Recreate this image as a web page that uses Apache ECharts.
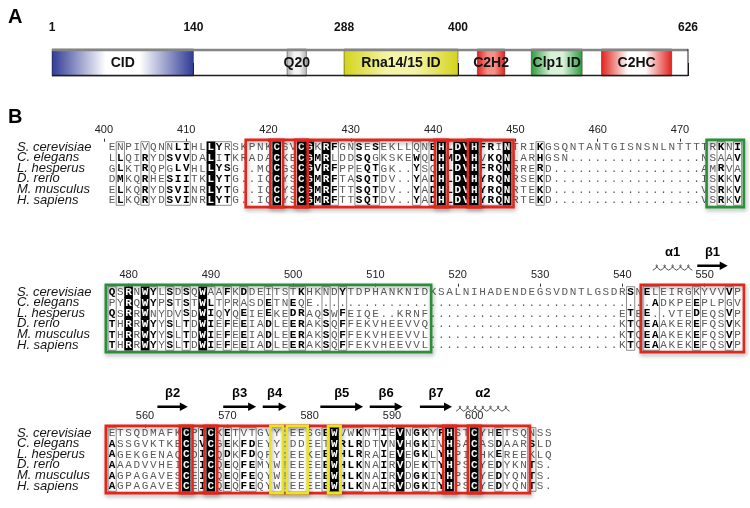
<!DOCTYPE html>
<html>
<head>
<meta charset="utf-8">
<script src="https://cdn.jsdelivr.net/npm/echarts@6.0.0/dist/echarts.min.js"></script>
<style>
html,body{margin:0;padding:0;background:#ffffff;}
#chart{width:750px;height:508px;}
</style>
</head>
<body>
<div id="chart"></div>
<script>
// ===== Panel A: domain architecture =====
const proteinLength = 626;
const markerResidues = [1, 140, 288, 400, 626];
const domainNames = ['CID', 'Q20', 'Rna14/15 ID', 'C2H2', 'Clp1 ID', 'C2HC'];
const domainStart = [1, 232, 288, 419, 472, 541];
const domainEnd   = [140, 251, 400, 446, 522, 610];

// ===== Panel B: sequence alignment =====
const species = ['S. cerevisiae', 'C. elegans', 'L. hesperus', 'D. rerio', 'M. musculus', 'H. sapiens'];

const block1Seqs = [
  'ENPIVQNNLIHLLYRSKPNKCSVCGKRFGNSESEKLLQNEHLDVHFRINTRIKGSQNTANTGISNSNLNTTTTRKNI',
  'LLQIRYDSVVDALITKRADACKECGMRLDDSQGKSKEWQDHMDVHVKQNLARHGSN' + '.'.repeat(16) + 'NSAAV',
  'GLKTRQPGLVHLLYSG..MQCGSCGVRFPPEQTGK..YSQHLDVHFRQNRRERD' + '.'.repeat(18) + 'AMRVA',
  'DMKQRHESIITKLYTG..IQCYSCGMRFTASQTDV..YADHLDVHYRQNRSEKD' + '.'.repeat(18) + 'ISKKV',
  'ELKQRYDSVINRLYTG..IQCYSCGMRFTTSQTDV..YADHLDVHYRQNRTEKD' + '.'.repeat(18) + 'VSRKV',
  'ELKQRYDSVINRLYTG..IQCYSCGMRFTTSQTDV..YADHLDVHYRQNRTEKD' + '.'.repeat(18) + 'VSRKV'
];
const block1Conserved = [12, 20, 23, 24, 26, 40, 42, 43, 44, 48];
const block1Frames = [[1,1],[4,4],[7,9],[13,14],[25,25],[27,27],[30,32],[37,37],[39,39],[41,41],[45,47],[52,52],[74,74],[76,76]];
const block1TickCols = [-1, 9, 19, 29, 39, 49, 59, 69];
const block1TickLabels = [400, 410, 420, 430, 440, 450, 460, 470];
const block1RedBoxes = [[17,48],[20,20],[23,23],[40,40],[44,44]];
const block1GreenBoxes = [[73,76]];
const block1YellowBoxes = [];

const block2Seqs = [
  'QSRNWYLSDSQWAAFKDDEITSTKHKNDYTDPHANKNIDKSALNIHADENDEGSVDNTLGSDRSNELEIRGKYVVVP',
  'PYRQWYPSTSTWLTPRASDETNEQE' + '.'.repeat(41) + 'ADKPEEPLPGV',
  'QSRRWNYDVSDWIQYQEIEEKEDRAQSWFEIQE..KRNF' + '.'.repeat(23) + 'ETEE..VTEDEQSVP',
  'THRRWYYSLTDWIEFEEIADLEERAKSQFFEKVHEEVVQ' + '.'.repeat(23) + 'KTQEAAKEREFQSVK',
  'THRRWYYSLTDWIEFEEIADLEERAKSQFFEKVHEEVVL' + '.'.repeat(23) + 'KTQEAAKEKEFQSVP',
  'THRRWYYSLTDWIEFEEIADLEERAKSQFFEKVHEEVVL' + '.'.repeat(23) + 'KTQEAAKEKEFQSVP'
];
const block2Conserved = [2, 4, 11];
const block2Frames = [[0,0],[5,5],[7,7],[9,9],[12,12],[14,14],[16,16],[19,19],[22,23],[26,26],[28,28],[63,63],[65,66],[71,71],[75,75]];
const block2TickCols = [2, 12, 22, 32, 42, 52, 62, 72];
const block2TickLabels = [480, 490, 500, 510, 520, 530, 540, 550];
const block2RedBoxes = [[65,76]];
const block2GreenBoxes = [[0,38]];
const block2YellowBoxes = [];
const block2SSType = ['alpha', 'beta'];
const block2SSLabel = ['α1', 'β1'];
const block2SSFrom = [66.2, 71.6];
const block2SSTo = [71.0, 75.3];

const block3Seqs = [
  'ETSQDMAFKCPICKETVTGVY:EESGEWVWKNTIEVNGKYFHSTCYHETSQNSS',
  'ASSGVKTKECSVCGEKFDEYY:DDEETWRLRDTVNVHGKIVHSACASDAARSLD',
  'AGEKGENAQCDICQDKFDQFY:EEKEEWHLRRAIEVEGKLYHPICHKEREEKLQ',
  'AAADVVHEICEICQEQFEMYW!EEEEEWHLKNAIRVDEKTYHPSCYEDYKNTS.',
  'AGPAGAVESCEICQEQFEQYW!EEEEEWHLKNAIRVDGKIYHPSCYEDYQNTS.',
  'AGPAGAVESCEICQEQFEQYW!EEEEEWHLKNAIRVDGKIYHPSCYEDYQNTS.'
];
const block3Conserved = [9, 12, 27, 35, 41, 44];
const block3Frames = [[0,0],[11,11],[14,14],[16,17],[26,26],[28,30],[33,33],[37,38],[40,40],[47,47],[51,51]];
const block3TickCols = [4, 14, 24, 34, 44];
const block3TickLabels = [560, 570, 580, 590, 600];
const block3RedBoxes = [[0,50],[9,9],[12,12],[41,41],[44,44]];
const block3GreenBoxes = [];
const block3YellowBoxes = [[20,20],[22,23],[27,27]];
const block3SSType = ['beta', 'beta', 'beta', 'beta', 'beta', 'beta', 'alpha'];
const block3SSLabel = ['β2', 'β3', 'β4', 'β5', 'β6', 'β7', 'α2'];
const block3SSFrom = [6.0, 14.0, 18.8, 25.8, 31.8, 37.9, 42.3];
const block3SSTo = [9.7, 18.0, 21.7, 31.0, 35.8, 41.8, 48.8];

// ===== layout & styles =====
const CW = 8.23, RH = 10.6, SEQ_LEFT = 108;
const blockTops = [141.7, 286.7, 427.7];
const monoFont = '"Liberation Mono", "DejaVu Sans Mono", monospace';
const sansFont = '"Liberation Sans", Arial, Helvetica, sans-serif';
const domainPalette = {
  'CID': ['#2f3a95', '#ffffff'],
  'Q20': ['#b4b4b4', '#f3f3f3'],
  'Rna14/15 ID': ['#d3d31c', '#f4f4a6'],
  'C2H2': ['#e1201a', '#f49088'],
  'Clp1 ID': ['#2b9a3b', '#d8f1d8'],
  'C2HC': ['#e1201a', '#ffffff']
};
const boxColors = { red: '#e2261c', green: '#2a8f3b', yellow: '#ece41e' };
const simGroups = ['ILVM', 'FYW', 'KRH', 'DE', 'ST', 'NQ'];
const grpOf = ch => { for (const g of simGroups) if (g.indexOf(ch) >= 0) return g; return ch; };

const blocks = [
  { seqs: block1Seqs, conserved: block1Conserved, frames: block1Frames, tickCols: block1TickCols, tickLabels: block1TickLabels,
    red: block1RedBoxes, green: block1GreenBoxes, yellow: block1YellowBoxes, ssType: [], ssLabel: [], ssFrom: [], ssTo: [] },
  { seqs: block2Seqs, conserved: block2Conserved, frames: block2Frames, tickCols: block2TickCols, tickLabels: block2TickLabels,
    red: block2RedBoxes, green: block2GreenBoxes, yellow: block2YellowBoxes, ssType: block2SSType, ssLabel: block2SSLabel, ssFrom: block2SSFrom, ssTo: block2SSTo },
  { seqs: block3Seqs, conserved: block3Conserved, frames: block3Frames, tickCols: block3TickCols, tickLabels: block3TickLabels,
    red: block3RedBoxes, green: block3GreenBoxes, yellow: block3YellowBoxes, ssType: block3SSType, ssLabel: block3SSLabel, ssFrom: block3SSFrom, ssTo: block3SSTo }
];

const grids = [{ left: 52, top: 49, width: 636, height: 27 }];
const xAxes = [{
  type: 'value', gridIndex: 0, min: 1, max: proteinLength, position: 'top',
  axisLine: { show: false }, splitLine: { show: false },
  axisTick: { show: true, customValues: markerResidues, length: 13, lineStyle: { color: '#111', width: 1 } },
  axisLabel: { show: true, customValues: markerResidues, margin: 15, fontSize: 12, fontWeight: 'bold', color: '#111', fontFamily: sansFont }
}];
const yAxes = [{ type: 'value', gridIndex: 0, min: 0, max: 1, show: false }];
const series = [];

// domain rectangles
series.push({
  type: 'custom', xAxisIndex: 0, yAxisIndex: 0, z: 3, silent: true,
  data: domainNames.map((n, i) => [domainStart[i], domainEnd[i], i]),
  renderItem: (params, api) => {
    const i = api.value(2);
    const p0 = api.coord([api.value(0), 1]);
    const p1 = api.coord([api.value(1), 0]);
    const pal = domainPalette[domainNames[i]];
    return { type: 'group', children: [
      { type: 'rect', shape: { x: p0[0], y: p0[1], width: p1[0] - p0[0], height: p1[1] - p0[1] },
        style: { fill: { type: 'linear', x: 0, y: 0, x2: 1, y2: 0, colorStops: [
          { offset: 0, color: pal[0] }, { offset: 0.38, color: pal[1] }, { offset: 0.62, color: pal[1] }, { offset: 1, color: pal[0] } ] },
          stroke: 'rgba(30,30,30,0.55)', lineWidth: 0.8 } },
      { type: 'text', z2: 10, style: { text: domainNames[i], x: (p0[0] + p1[0]) / 2, y: (p0[1] + p1[1]) / 2 + 1,
        textAlign: 'center', textVerticalAlign: 'middle', align: 'center', verticalAlign: 'middle',
        font: 'bold 14px ' + sansFont, fill: '#111' } }
    ] };
  }
});
// bar frame
series.push({
  type: 'custom', xAxisIndex: 0, yAxisIndex: 0, z: 4, silent: true,
  data: [[1, proteinLength]],
  renderItem: (params, api) => {
    const a = api.coord([api.value(0), 1]);
    const b = api.coord([api.value(1), 0]);
    return { type: 'group', children: [
      { type: 'line', shape: { x1: a[0], y1: a[1] + 1, x2: b[0], y2: a[1] + 1 }, style: { stroke: '#858585', lineWidth: 2.5 } },
      { type: 'line', shape: { x1: a[0], y1: b[1] - 0.5, x2: b[0], y2: b[1] - 0.5 }, style: { stroke: '#1e1e1e', lineWidth: 1.6 } },
      { type: 'line', shape: { x1: b[0], y1: a[1], x2: b[0], y2: b[1] }, style: { stroke: '#1e1e1e', lineWidth: 1 } }
    ] };
  }
});

blocks.forEach((blk, b) => {
  const n = blk.seqs[0].length;
  const gi = b + 1;
  grids.push({ left: SEQ_LEFT - CW, top: blockTops[b], width: (n + 1) * CW, height: 6 * RH });
  xAxes.push({
    type: 'value', gridIndex: gi, min: -1.5, max: n - 0.5, position: 'top',
    axisLine: { show: false }, splitLine: { show: false },
    axisTick: { show: true, customValues: blk.tickCols, length: 3, lineStyle: { color: '#333', width: 1 } },
    axisLabel: { show: true, customValues: blk.tickCols, margin: 6, fontSize: 11, color: '#222', fontFamily: sansFont,
      formatter: v => String(blk.tickLabels[blk.tickCols.indexOf(Math.round(v))]) }
  });
  yAxes.push({
    type: 'category', gridIndex: gi, data: species, inverse: true,
    axisLine: { show: false }, axisTick: { show: false }, splitLine: { show: false },
    axisLabel: { interval: 0, margin: SEQ_LEFT - CW - 17, align: 'left', fontSize: 13, fontStyle: 'italic',
      color: '#151515', fontFamily: sansFont }
  });

  const inFrame = c => blk.frames.some(f => c >= f[0] && c <= f[1]);
  const isCons = c => blk.conserved.indexOf(c) >= 0;

  // similarity frames
  series.push({
    type: 'custom', xAxisIndex: gi, yAxisIndex: gi, z: 2, silent: true,
    data: blk.frames.map(f => [f[0], f[1]]),
    renderItem: (params, api) => {
      const a = api.coord([api.value(0) - 0.5, 0]);
      const e = api.coord([api.value(1) + 0.5, 5]);
      return { type: 'rect', shape: { x: a[0], y: a[1] - RH / 2, width: e[0] - a[0], height: e[1] - a[1] + RH },
        style: { fill: 'none', stroke: '#8e8e8e', lineWidth: 1 } };
    }
  });

  // residues
  const cells = [];
  blk.seqs.forEach((s, r) => { for (let c = 0; c < s.length; c++) cells.push([c, r]); });
  series.push({
    type: 'custom', xAxisIndex: gi, yAxisIndex: gi, z: 3, silent: true,
    data: cells,
    renderItem: (params, api) => {
      const c = api.value(0), r = api.value(1);
      const ch = blk.seqs[r].charAt(c);
      const p = api.coord([c, r]);
      const children = [];
      const cons = isCons(c);
      let bold = false;
      if (cons) {
        children.push({ type: 'rect', shape: { x: p[0] - CW / 2 - 0.2, y: p[1] - RH / 2 - 0.3, width: CW + 0.4, height: RH + 0.6 },
          style: { fill: '#000' } });
      } else if (ch !== '.' && inFrame(c)) {
        const g = grpOf(ch);
        let cnt = 0;
        blk.seqs.forEach(s => { const o = s.charAt(c); if (o !== '.' && grpOf(o) === g) cnt++; });
        bold = cnt >= 2;
      }
      children.push({ type: 'text', z2: 5, style: { text: ch, x: p[0], y: p[1] + 0.5,
        textAlign: 'center', textVerticalAlign: 'middle', align: 'center', verticalAlign: 'middle',
        font: ((cons || bold) ? 'bold ' : '') + '11px ' + monoFont,
        fill: cons ? '#ffffff' : (bold ? '#000000' : '#5a5a5a') } });
      return { type: 'group', children };
    }
  });

  // coloured boxes
  const boxData = [];
  blk.red.forEach(x => boxData.push([x[0], x[1], 0]));
  blk.green.forEach(x => boxData.push([x[0], x[1], 1]));
  blk.yellow.forEach(x => boxData.push([x[0], x[1], 2]));
  const kinds = ['red', 'green', 'yellow'];
  series.push({
    type: 'custom', xAxisIndex: gi, yAxisIndex: gi, z: 5, silent: true,
    data: boxData,
    renderItem: (params, api) => {
      const a = api.coord([api.value(0) - 0.5, 0]);
      const e = api.coord([api.value(1) + 0.5, 5]);
      const col = boxColors[kinds[api.value(2)]];
      const y0 = a[1] - RH / 2 - 1.8, y1 = e[1] + RH / 2 + 1.8;
      return { type: 'rect', shape: { x: a[0] - 2.2, y: y0, width: e[0] - a[0] + 4.4, height: y1 - y0 },
        style: { fill: 'none', stroke: col, lineWidth: 2.6, shadowBlur: 4, shadowColor: 'rgba(0,0,0,0.35)', shadowOffsetX: 1, shadowOffsetY: 2 } };
    }
  });

  // secondary structure
  if (blk.ssType.length) {
    series.push({
      type: 'custom', xAxisIndex: gi, yAxisIndex: gi, z: 5, silent: true,
      data: blk.ssType.map((t, i) => [blk.ssFrom[i] - 0.5, blk.ssTo[i] - 0.5, i]),
      renderItem: (params, api) => {
        const i = api.value(2);
        const a = api.coord([api.value(0), 0]);
        const e = api.coord([api.value(1), 0]);
        const top = a[1] - RH / 2;
        const x0 = a[0], x1 = e[0];
        const children = [];
        if (blk.ssType[i] === 'beta') {
          const y = top - 21;
          children.push({ type: 'polygon', shape: { points: [[x0, y - 1.3], [x1 - 8, y - 1.3], [x1 - 8, y - 4.2], [x1, y], [x1 - 8, y + 4.2], [x1 - 8, y + 1.3], [x0, y + 1.3]] },
            style: { fill: '#000' } });
        } else {
          const yb = top - 16.5, h = 7;
          const nl = Math.max(1, Math.round((x1 - x0) / 7.2));
          const w = (x1 - x0) / nl;
          let d = 'M' + x0 + ' ' + yb;
          for (let k = 0; k < nl; k++) {
            const xs = x0 + k * w;
            d += ' C' + (xs + w * 1.45) + ' ' + (yb - h) + ' ' + (xs - w * 0.45) + ' ' + (yb - h) + ' ' + (xs + w) + ' ' + yb;
          }
          children.push({ type: 'path', shape: { pathData: d }, style: { fill: 'none', stroke: '#222', lineWidth: 0.8 } });
        }
        children.push({ type: 'text', style: { text: blk.ssLabel[i], x: (x0 + x1) / 2, y: top - 34,
          textAlign: 'center', textVerticalAlign: 'middle', align: 'center', verticalAlign: 'middle',
          font: 'bold 13px ' + sansFont, fill: '#000' } });
        return { type: 'group', children };
      }
    });
  }
});

const chart = echarts.init(document.getElementById('chart'), null, { renderer: 'canvas' });
chart.setOption({
  backgroundColor: '#ffffff',
  animation: false,
  title: [
    { text: 'A', left: 3, top: 2, textStyle: { fontSize: 20, fontWeight: 'bold', color: '#000', fontFamily: sansFont } },
    { text: 'B', left: 3, top: 102, textStyle: { fontSize: 20, fontWeight: 'bold', color: '#000', fontFamily: sansFont } }
  ],
  grid: grids,
  xAxis: xAxes,
  yAxis: yAxes,
  series: series
});
</script>
</body>
</html>
